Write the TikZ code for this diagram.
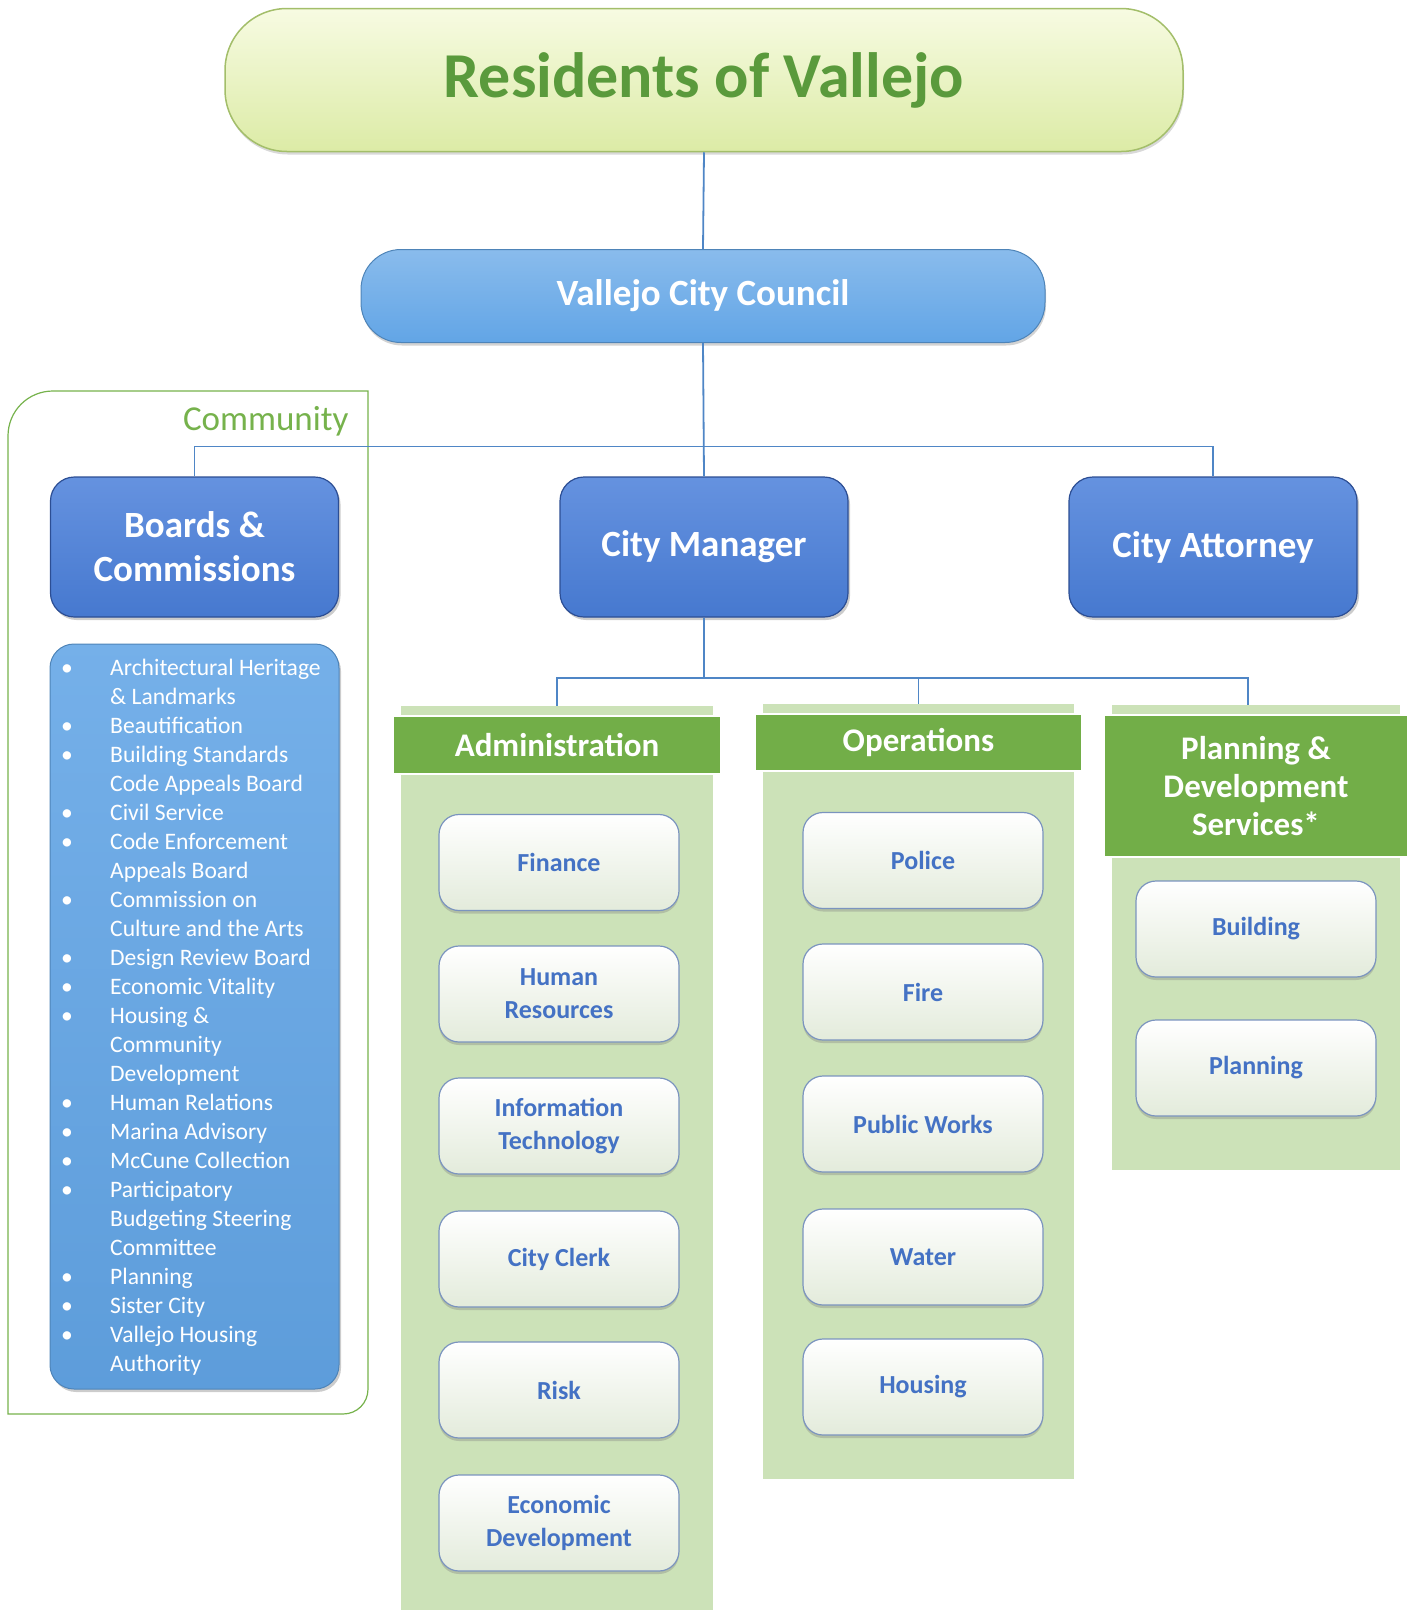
\documentclass[tikz,border=0pt]{standalone}
\usepackage{fontspec}
\setmainfont{Carlito}
\usetikzlibrary{shadows}

\definecolor{linkblue}{HTML}{4F86C6}
\definecolor{resgreen}{HTML}{5A9A3C}
\definecolor{resborder}{HTML}{A3BE6A}
\definecolor{restop}{HTML}{F7FBE2}
\definecolor{resbottom}{HTML}{DCEBA6}
\definecolor{skyblue}{HTML}{62A5E6}
\definecolor{royal}{HTML}{4A7FDA}
\definecolor{royaldark}{HTML}{2C4E94}
\definecolor{hdgreen}{HTML}{72AE48}
\definecolor{panelgreen}{HTML}{CCE2B8}
\definecolor{cardborder}{HTML}{7B94BF}
\definecolor{cardbottom}{HTML}{E3EBDB}
\definecolor{cardtext}{HTML}{4472C4}
\definecolor{commgreen}{HTML}{76B24C}

\begin{document}
\begin{tikzpicture}[x=1pt,y=-1pt,
  link/.style={draw=linkblue, line width=1.8pt},
  respill/.style={draw=resborder, line width=1.5pt, top color=restop,
    bottom color=resbottom, rounded corners=62pt, text=resgreen,
    font=\fontsize{64}{70}\selectfont\bfseries,
    drop shadow={shadow xshift=1pt, shadow yshift=-3pt, opacity=.3}},
  skypill/.style={draw=skyblue!80!black, line width=1pt, top color=skyblue!75!white,
    bottom color=skyblue, rounded corners=40pt, text=white,
    font=\fontsize{37}{44}\selectfont\bfseries,
    drop shadow={shadow xshift=1pt, shadow yshift=-3pt, opacity=.35}},
  topbox/.style={draw=royaldark, line width=1.2pt, top color=royal!85!white,
    bottom color=royal!95!black, rounded corners=24pt, text=white,
    minimum width=288pt, minimum height=140pt, align=center,
    font=\fontsize{37}{44}\selectfont\bfseries,
    drop shadow={shadow xshift=2pt, shadow yshift=-3pt, opacity=.4}},
  panel/.style={fill=panelgreen, inner sep=0pt},
  header/.style={fill=hdgreen, draw=white, line width=1.5pt, text=white, align=center,
    font=\fontsize{33}{38}\selectfont\bfseries},
  card/.style={draw=cardborder, line width=1.2pt, top color=white, bottom color=cardbottom,
    rounded corners=20pt, minimum width=240pt, minimum height=96pt, align=center,
    text=cardtext, font=\fontsize{26}{33}\selectfont\bfseries,
    drop shadow={shadow xshift=0pt, shadow yshift=-3pt, opacity=.35}}
  ]
\useasboundingbox (0,0) rectangle (1417,1610);

%% community frame
\draw[commgreen, line width=1.2pt] (368,391) -- (53,391) .. controls (28,391) and (8,411) .. (8,436)
  -- (8,1414) -- (343,1414) .. controls (357,1414) and (368,1403) .. (368,1389) -- cycle;
\node[anchor=east, text=commgreen, font=\fontsize{35}{40}\selectfont] (community) at (352,421) {Community};

%% top of the chart
\node[respill, minimum width=958pt, minimum height=143pt] (res) at (704,80) {Residents of Vallejo};
\node[skypill, minimum width=684pt, minimum height=93pt] (council) at (703,296) {Vallejo City Council};

\node[topbox] (boards) at (194.5,547) {Boards \&\\Commissions};
\node[topbox] (manager) at (704,547) {City Manager};
\node[topbox] (attorney) at (1213,547) {City Attorney};

\draw[link] (res.south) -- (council.north);
\draw[link] (council.south) -- (manager.north);
\draw[link] (boards.north) -- ++(0,-30) -| (attorney.north);

%% boards and commissions list
\node[draw=skyblue!80!black, line width=1pt, top color=skyblue!88!white, bottom color=skyblue!95!black,
  rounded corners=24pt, minimum width=289pt, minimum height=745pt,
  drop shadow={shadow xshift=2pt, shadow yshift=-3pt, opacity=.4}] (listbox) at (194.5,1016.5) {};
\node[anchor=north west, inner sep=0pt, text=white, font=\fontsize{23.6}{29}\selectfont] (boardlist) at (61,655)
 {\begin{tabular}{@{}p{49pt}@{}l@{}}
  \textbullet & Architectural Heritage\\
              & \& Landmarks\\
  \textbullet & Beautification\\
  \textbullet & Building Standards\\
              & Code Appeals Board\\
  \textbullet & Civil Service\\
  \textbullet & Code Enforcement\\
              & Appeals Board\\
  \textbullet & Commission on\\
              & Culture and the Arts\\
  \textbullet & Design Review Board\\
  \textbullet & Economic Vitality\\
  \textbullet & Housing \&\\
              & Community\\
              & Development\\
  \textbullet & Human Relations\\
  \textbullet & Marina Advisory\\
  \textbullet & McCune Collection\\
  \textbullet & Participatory\\
              & Budgeting Steering\\
              & Committee\\
  \textbullet & Planning\\
  \textbullet & Sister City\\
  \textbullet & Vallejo Housing\\
              & Authority
 \end{tabular}};

%% departments
\node[panel, minimum width=312pt, minimum height=904pt] (adminbg) at (557,1158) {};
\node[panel, minimum width=311pt, minimum height=775pt] (opsbg) at (918.5,1091.5) {};
\node[panel, minimum width=288pt, minimum height=465pt] (pdsbg) at (1256,937.5) {};

\node[header, minimum width=328pt, minimum height=58pt] (adminhd) at (557,745) {Administration};
\node[header, minimum width=327pt, minimum height=57pt] (opshd) at (918.5,742.5) {Operations};
\node[header, minimum width=304pt, minimum height=142pt] (pdshd) at (1256,786) {Planning \&\\Development\\Services*};

\draw[link] (manager.south) -- ++(0,60) coordinate (cmbus);
\draw[link] (adminbg.north) -- (adminbg.north |- cmbus) -| ([xshift=-8pt]pdsbg.north);
\draw[link] (opsbg.north) -- (opsbg.north |- cmbus);

\node[card] (finance) at (559,862.5) {Finance};
\node[card] (hr) at (559,994) {Human\\Resources};
\node[card] (infotech) at (559,1126) {Information\\Technology};
\node[card] (clerk) at (559,1259) {City Clerk};
\node[card] (risk) at (559,1390) {Risk};
\node[card] (econ) at (559,1523) {Economic\\Development};

\node[card] (police) at (923,860.5) {Police};
\node[card] (fire) at (923,992) {Fire};
\node[card] (pubworks) at (923,1124) {Public Works};
\node[card] (water) at (923,1257) {Water};
\node[card] (housing) at (923,1387) {Housing};

\node[card] (building) at (1256,929) {Building};
\node[card] (planning) at (1256,1068) {Planning};

\end{tikzpicture}
\end{document}
